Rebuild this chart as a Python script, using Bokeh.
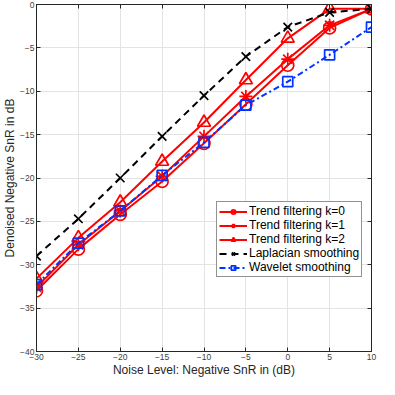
from bokeh.plotting import figure
from bokeh.models import Legend, LegendItem, FixedTicker, Range1d, LinearAxis
from bokeh.embed import file_html
from bokeh.resources import INLINE

noise = [-30, -25, -20, -15, -10, -5, 0, 5, 10]
tf_k0 = [-33.0, -28.2, -24.2, -20.4, -16.0, -11.5, -7.0, -2.7, -0.5]
tf_k1 = [-32.6, -27.7, -23.8, -19.8, -15.2, -10.6, -6.3, -2.4, -0.5]
tf_k2 = [-31.6, -26.9, -22.8, -18.1, -13.6, -8.7, -3.9, -0.5, -0.5]
laplacian = [-29.0, -24.7, -20.0, -15.2, -10.5, -6.0, -2.6, -0.9, -0.5]
wavelet = [-32.3, -27.5, -23.8, -19.7, -15.9, -11.6, -8.9, -5.8, -2.6]

x_ticks = [-30, -25, -20, -15, -10, -5, 0, 5, 10]
y_ticks = [-40, -35, -30, -25, -20, -15, -10, -5, 0]

FONT = "Liberation Sans"

p = figure(width=379, height=379, output_backend="svg", toolbar_location=None,
           x_range=Range1d(-30, 10), y_range=Range1d(-40, 0),
           min_border_left=2, min_border_right=8, min_border_top=4, min_border_bottom=0)
p.outline_line_color = "#262626"
p.outline_line_width = 1

for ax in (p.xaxis[0], p.yaxis[0]):
    ax.major_tick_in = 4
    ax.major_tick_out = 0
    ax.minor_tick_in = 0
    ax.minor_tick_out = 0
    ax.axis_line_color = "#262626"
    ax.major_tick_line_color = "#262626"
    ax.major_label_text_font = FONT
    ax.major_label_text_font_size = "8.5px"
    ax.major_label_text_color = "#404040"
    ax.axis_label_text_font = FONT
    ax.axis_label_text_font_size = "12px"
    ax.axis_label_text_font_style = "normal"
    ax.axis_label_text_color = "#262626"
    ax.major_label_standoff = 2
    ax.axis_label_standoff = 0

p.xaxis.ticker = FixedTicker(ticks=x_ticks)
p.yaxis.ticker = FixedTicker(ticks=y_ticks)
p.xaxis.axis_label = "Noise Level: Negative SnR in (dB)"
p.yaxis.axis_label = "Denoised Negative SnR in dB"

# box ticks on the top and right sides (no labels)
for loc, ticks in (("right", y_ticks), ("above", x_ticks)):
    ax = LinearAxis(ticker=FixedTicker(ticks=ticks),
                    major_label_overrides={t: "" for t in ticks})
    ax.major_tick_in = 4
    ax.major_tick_out = 0
    ax.minor_tick_in = 0
    ax.minor_tick_out = 0
    ax.major_label_standoff = 0
    ax.axis_line_color = "#262626"
    ax.major_tick_line_color = "#262626"
    p.add_layout(ax, loc)

p.xgrid.ticker = FixedTicker(ticks=x_ticks)
p.ygrid.ticker = FixedTicker(ticks=y_ticks)
p.grid.grid_line_color = "#e3e3e3"
p.grid.grid_line_width = 1

RED = "#ff0000"
BLUE = "#0033ff"
series = [
    ("Trend filtering k=0", tf_k0, RED, "solid", "circle", 12),
    ("Trend filtering k=1", tf_k1, RED, "solid", "asterisk", 13),
    ("Trend filtering k=2", tf_k2, RED, "solid", "triangle", 13),
    ("Laplacian smoothing", laplacian, "black", "7 5", "x", 12),
    ("Wavelet smoothing", wavelet, BLUE, "6 3 2 3", "square", 10),
]

items = []
for name, ys, col, dash, mk, sz in series:
    l = p.line(noise, ys, line_color=col, line_width=2, line_dash=dash)
    s = p.scatter(noise, ys, marker=mk, size=sz, line_color=col, fill_color=None, line_width=1.7)
    items.append(LegendItem(label=name, renderers=[l, s]))

legend = Legend(items=items, location=(180, 74))
legend.label_text_font = FONT
legend.label_text_font_size = "12px"
legend.label_text_color = "black"
legend.label_height = 11
legend.glyph_height = 11
legend.glyph_width = 28
legend.spacing = 0
legend.padding = 2
legend.margin = 0
legend.label_standoff = 2
legend.border_line_color = "#262626"
legend.border_line_width = 1
legend.background_fill_alpha = 1
p.add_layout(legend, "center")

open("out.html", "w").write(file_html(p, INLINE))
